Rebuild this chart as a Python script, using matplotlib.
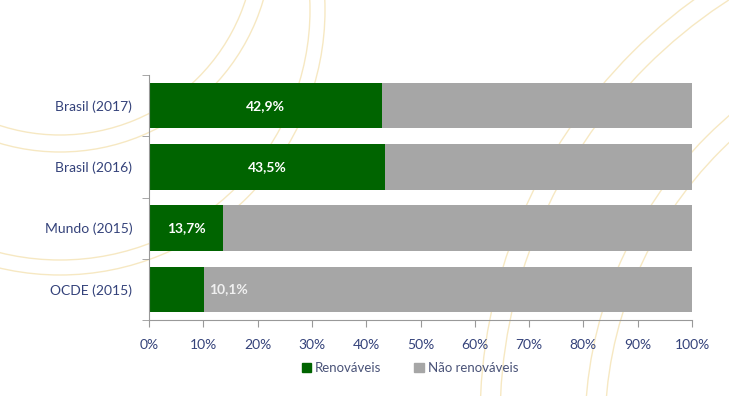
import numpy as np
import matplotlib
matplotlib.use("Agg")
import matplotlib.pyplot as plt
from matplotlib.patches import Arc, Patch

# ── data ──────────────────────────────────────────────────────────
categories = ["Brasil (2017)", "Brasil (2016)", "Mundo (2015)", "OCDE (2015)"]
renovaveis = [42.9, 43.5, 13.7, 10.1]
nao_renovaveis = [100 - v for v in renovaveis]
xticks = list(range(0, 101, 10))

GREEN = "#006400"
GREY = "#a6a6a6"
NAVY = "#34427a"

plt.rcParams["font.family"] = ["Lato", "DejaVu Sans"]

fig = plt.figure(figsize=(7.29, 3.96), dpi=100)

# ── decorative background arcs ───────────────────────────────────
bg = fig.add_axes([0, 0, 1, 1])
bg.set_xlim(0, 729)
bg.set_ylim(396, 0)
bg.axis("off")
arc_kw = dict(color="#f1d99a", lw=1.0, alpha=0.6)
for cx, cy, r in [(60, -60, 195), (60, -60, 212),
                  (60, 10, 250), (60, 10, 265),
                  (1000, 420, 500), (1000, 420, 520),
                  (1000, 430, 395), (1000, 430, 415)]:
    bg.add_patch(Arc((cx, cy), 2 * r, 2 * r, theta1=0, theta2=360, **arc_kw))

# ── main chart ────────────────────────────────────────────────────
ax = fig.add_axes([149 / 729, 1 - 320 / 396, 543 / 729, 245 / 396])
ax.patch.set_alpha(0)

y = np.arange(len(categories))[::-1]
ax.barh(y, renovaveis, height=0.74, color=GREEN, label="Renováveis", zorder=2)
ax.barh(y, nao_renovaveis, left=renovaveis, height=0.74, color=GREY,
        label="Não renováveis", zorder=2)

for yi, v in zip(y, renovaveis):
    txt = f"{v:.1f}%".replace(".", ",")
    if v > 12:
        ax.text(v / 2, yi, txt, ha="center", va="center", color="white",
                fontsize=10, fontweight="bold", zorder=3)
    else:
        ax.text(v + 1.0, yi, txt, ha="left", va="center", color="#f0f0f0",
                fontsize=10, fontweight="bold", zorder=3)

ax.set_xlim(0, 100)
ax.set_ylim(-0.5, len(categories) - 0.5)
ax.set_xticks(xticks)
ax.set_xticklabels([f"{t}%" for t in xticks])
ax.set_yticks(y)
ax.set_yticklabels(categories)
ax.set_yticks(np.arange(-0.5, len(categories)), minor=True)

ax.tick_params(axis="y", which="major", length=0, pad=12, labelsize=10, labelcolor=NAVY)
ax.tick_params(axis="y", which="minor", length=5, color="#999999", direction="out")
ax.tick_params(axis="x", length=5, color="#999999", labelsize=10, labelcolor=NAVY, pad=9)

for s in ["top", "right"]:
    ax.spines[s].set_visible(False)
for s in ["left", "bottom"]:
    ax.spines[s].set_color("#999999")

handles = [Patch(color=GREEN, label="Renováveis"),
           Patch(color=GREY, label="Não renováveis")]
fig.legend(handles=handles, loc="center", bbox_to_anchor=(410 / 729, 1 - 368 / 396),
           ncol=2, frameon=False, fontsize=9.5, handlelength=0.7, handleheight=0.7,
           handletextpad=0.3, columnspacing=2.5, labelcolor="#4a5378")

fig.savefig("out.png", dpi=100)
